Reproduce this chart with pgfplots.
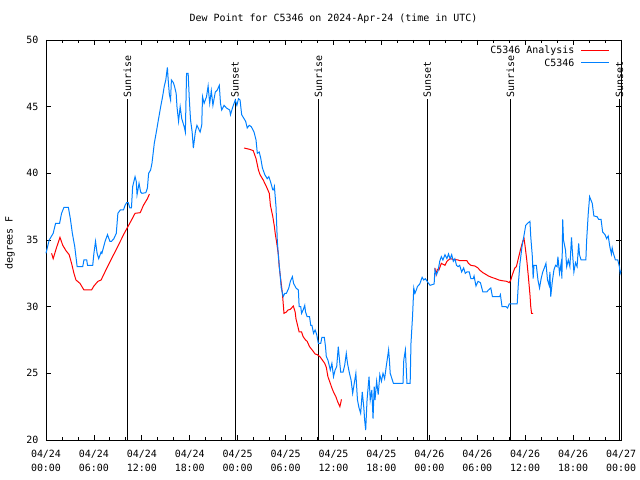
\documentclass[border=0pt]{standalone}
\usepackage{fontspec}
\setmainfont{DejaVu Sans Mono}
\usepackage{pgfplots}
\pgfplotsset{compat=1.18}
\definecolor{webblue}{RGB}{0,128,255}
\begin{document}
\begin{tikzpicture}
\fontsize{10}{12}\selectfont
\path[use as bounding box] (-46bp,-40bp) rectangle (594bp,440bp);
\begin{axis}[
  at={(0,0)}, anchor=south west,
  scale only axis, width=575bp, height=400bp,
  xmin=0, xmax=72, ymin=20, ymax=50,
  xtick={0,6,...,72},
  xticklabels={{04/24\\00:00},{04/24\\06:00},{04/24\\12:00},{04/24\\18:00},{04/25\\00:00},{04/25\\06:00},{04/25\\12:00},{04/25\\18:00},{04/26\\00:00},{04/26\\06:00},{04/26\\12:00},{04/26\\18:00},{04/27\\00:00}},
  xticklabel style={align=center, font=\fontsize{10}{14}\selectfont, yshift=-7bp},
  minor x tick num=2,
  ytick={20,25,...,50},
  yticklabel style={font=\fontsize{10}{12}\selectfont, xshift=-4bp},
  /pgf/number format/assume math mode=true,
  tick align=inside, tick pos=both,
  major tick length=5bp, minor tick length=3bp,
  every tick/.style={black, line width=0.8bp},
  axis line style={line width=0.8bp},
  unbounded coords=jump,
  clip=false,
]
% vertical sunrise / sunset lines
\addplot[black, line width=0.8bp, forget plot] coordinates {(10.18,20) (10.18,45.55)};
\addplot[black, line width=0.8bp, forget plot] coordinates {(23.67,20) (23.67,45.55)};
\addplot[black, line width=0.8bp, forget plot] coordinates {(34.1,20) (34.1,45.55)};
\addplot[black, line width=0.8bp, forget plot] coordinates {(47.75,20) (47.75,45.55)};
\addplot[black, line width=0.8bp, forget plot] coordinates {(58.14,20) (58.14,45.55)};
\addplot[black, line width=0.8bp, forget plot] coordinates {(71.8,20) (71.8,45.55)};
\node[rotate=90, anchor=west, inner sep=2bp] at (axis cs:10.18,45.55) {Sunrise};
\node[rotate=90, anchor=west, inner sep=2bp] at (axis cs:23.67,45.55) {Sunset};
\node[rotate=90, anchor=west, inner sep=2bp] at (axis cs:34.1,45.55) {Sunrise};
\node[rotate=90, anchor=west, inner sep=2bp] at (axis cs:47.75,45.55) {Sunset};
\node[rotate=90, anchor=west, inner sep=2bp] at (axis cs:58.14,45.55) {Sunrise};
\node[rotate=90, anchor=west, inner sep=2bp] at (axis cs:71.8,45.55) {Sunset};
% C5346 Analysis
\addplot[red, line width=1bp] coordinates {
(0.7,34.0) (0.9,33.6) (1.3,34.4) (1.75,35.2) (2.1,34.6) (2.5,34.2) (2.9,33.9) (3.2,33.25)
(3.5,32.5) (3.75,32.0) (4.25,31.75) (4.75,31.25) (5.7,31.25) (6.0,31.55) (6.5,31.9) (6.9,32.0)
(7.3,32.5) (7.7,33.0) (8.2,33.6) (8.77,34.25) (9.3,34.9) (9.8,35.5) (10.3,36.05) (10.8,36.6)
(11.15,37.0) (11.8,37.05) (12.2,37.6) (12.7,38.1) (12.95,38.45)
(13.5,nan)
(24.8,41.9) (25.5,41.8) (25.95,41.7) (26.3,41.1) (26.6,40.25) (26.8,39.9) (27.2,39.5) (27.6,39.0)
(27.96,38.5) (28.1,37.6) (28.4,36.75) (28.6,36.0) (28.7,35.5) (28.9,34.75) (29.1,33.9) (29.2,33.0)
(29.4,32.0) (29.6,31.0) (29.8,29.5) (30.1,29.6) (30.3,29.75) (30.6,29.8) (30.97,30.05) (31.2,29.6)
(31.3,29.1) (31.5,28.6) (31.7,28.1) (32.0,28.1) (32.2,27.75) (32.5,27.5) (32.7,27.4) (33.0,27.0)
(33.4,26.7) (33.7,26.45) (33.97,26.4) (34.3,26.25) (34.6,26.0) (34.9,25.75) (35.1,25.45) (35.3,24.75)
(35.6,24.25) (35.8,23.9) (36.0,23.6) (36.3,23.25) (36.5,22.9) (36.8,22.5) (37.0,23.05)
(40.0,nan)
(48.7,32.9) (48.85,32.4) (49.0,32.8) (49.2,32.75) (49.5,33.25) (49.96,33.1) (50.2,33.4) (50.6,33.6)
(51.0,33.55) (51.6,33.5) (51.8,33.45) (52.7,33.45) (52.9,33.25) (53.2,33.1) (53.7,33.05) (54.1,32.9)
(54.3,32.75) (54.7,32.55) (55.0,32.45) (55.4,32.3) (55.8,32.2) (56.3,32.1) (56.7,32.0) (57.1,31.95)
(57.7,31.9) (58.0,31.8) (58.2,32.0) (58.4,32.4) (58.7,32.9) (58.9,33.0) (59.2,33.75) (59.4,34.25)
(59.7,34.9) (59.86,35.1) (60.0,34.5) (60.2,33.5) (60.4,32.25) (60.6,30.9) (60.7,30.0) (60.8,29.5) (61.0,29.5)
};
% C5346 observations
\addplot[webblue, line width=1bp] coordinates {
(0.0,34.0) (0.4,35.0) (0.9,35.5) (1.2,36.25) (1.7,36.25) (1.95,37.0) (2.25,37.45) (2.8,37.45)
(3.05,36.6) (3.3,35.5) (3.6,34.5) (3.8,33.5) (3.9,33.0) (4.6,33.0) (4.75,33.5) (5.1,33.5)
(5.2,33.1) (5.85,33.1) (6.0,34.0) (6.2,34.9) (6.4,34.0) (6.6,33.6) (6.9,34.1) (7.0,34.0)
(7.4,34.9) (7.7,35.4) (8.0,34.9) (8.2,34.9) (8.5,35.1) (8.8,35.5) (9.0,37.0) (9.3,37.25)
(9.7,37.25) (9.9,37.6) (10.1,37.8) (10.3,37.8) (10.5,37.4) (10.7,37.4) (10.85,39.0) (11.15,39.75)
(11.3,39.4) (11.4,38.4) (11.65,39.25) (11.85,38.6) (12.0,38.5) (12.5,38.55) (12.7,38.9) (12.85,40.0)
(13.1,40.25) (13.27,40.75) (13.56,42.25) (13.86,43.25) (14.07,44.0) (14.36,45.0) (14.6,45.75) (14.8,46.5)
(15.0,47.0) (15.2,47.95) (15.3,47.0) (15.45,45.9) (15.6,45.5) (15.7,47.0) (15.95,46.8) (16.1,46.5)
(16.3,46.0) (16.4,45.0) (16.6,43.9) (16.8,45.0) (17.0,44.1) (17.3,43.5) (17.45,43.1) (17.6,47.5)
(17.8,47.5) (17.95,45.5) (18.1,44.0) (18.3,43.1) (18.45,41.9) (18.7,43.1) (18.9,43.6) (19.3,43.1)
(19.5,43.6) (19.6,45.75) (19.8,45.25) (20.1,45.75) (20.3,46.55) (20.5,45.25) (20.7,46.2) (20.9,45.1)
(21.2,46.1) (21.45,46.25) (21.7,46.6) (21.85,45.25) (22.0,44.75) (22.3,45.1) (22.6,44.9) (23.0,44.75)
(23.1,44.4) (23.4,45.0) (23.7,45.5) (23.9,45.1) (24.1,45.6) (24.3,45.5) (24.5,44.4) (24.8,44.1)
(25.0,43.9) (25.2,43.4) (25.45,43.6) (25.7,43.5) (26.05,43.1) (26.3,42.5) (26.46,41.5) (26.7,41.6)
(26.9,41.1) (27.1,40.4) (27.4,39.9) (27.7,39.6) (27.9,39.75) (28.1,39.4) (28.4,38.75) (28.5,38.75)
(28.6,39.0) (28.8,37.5) (28.96,35.0) (29.1,33.75) (29.3,32.5) (29.46,31.4) (29.7,30.75) (29.9,31.0)
(30.1,31.0) (30.4,31.4) (30.6,31.9) (30.85,32.25) (31.0,31.75) (31.3,31.4) (31.6,31.25) (31.7,30.0)
(31.9,30.0) (32.0,29.5) (32.2,29.75) (32.4,30.1) (32.5,29.6) (32.7,29.25) (33.0,29.25) (33.15,28.6)
(33.3,28.6) (33.5,28.0) (33.7,28.25) (33.9,27.9) (34.1,27.25) (34.4,27.25) (34.55,27.7) (34.85,27.7)
(35.0,27.0) (35.1,26.25) (35.3,26.0) (35.6,25.25) (35.8,25.75) (36.0,24.75) (36.2,25.25) (36.4,25.5)
(36.6,27.0) (36.75,26.0) (36.9,25.1) (37.2,25.1) (37.4,25.6) (37.6,26.5) (37.75,25.75) (38.0,25.0)
(38.2,24.5) (38.4,23.5) (38.6,24.25) (38.8,25.0) (39.0,23.0) (39.2,22.4) (39.4,22.0) (39.6,23.6)
(39.8,22.4) (39.9,21.5) (40.03,20.75) (40.2,23.0) (40.45,24.75) (40.6,23.0) (40.8,23.75) (40.95,21.6)
(41.1,24.0) (41.2,23.0) (41.4,24.4) (41.6,23.4) (41.8,24.9) (42.0,24.4) (42.2,25.0) (42.4,24.6)
(42.6,25.5) (42.9,26.75) (43.0,26.0) (43.1,25.0) (43.5,24.25) (44.7,24.25) (44.8,26.0) (45.0,26.75)
(45.2,24.25) (45.6,24.25) (45.7,27.25) (45.9,29.3) (46.05,31.4) (46.2,31.0) (46.4,31.3) (46.5,31.5)
(46.8,31.7) (47.1,32.2) (47.3,32.0) (47.5,32.1) (47.9,31.75) (48.1,31.6) (48.6,31.7) (48.7,32.75)
(48.9,32.4) (49.1,32.7) (49.3,33.4) (49.5,33.75) (49.7,33.5) (49.96,33.9) (50.2,33.6) (50.4,33.95)
(50.6,33.6) (50.8,33.9) (51.0,33.4) (51.2,33.6) (51.4,33.1) (51.6,33.0) (51.8,33.1) (52.05,32.6)
(52.3,32.9) (52.5,32.5) (52.7,32.6) (53.0,32.6) (53.2,32.1) (53.5,32.1) (53.6,32.3) (53.84,31.55)
(54.1,31.9) (54.4,31.8) (54.7,31.1) (55.2,31.1) (55.4,31.25) (55.7,31.4) (55.9,30.75) (56.8,30.75)
(56.9,30.9) (57.1,30.0) (57.6,30.0) (57.8,29.9) (58.0,30.2) (59.0,30.2) (59.15,31.75) (59.35,33.25)
(59.6,34.5) (59.9,35.5) (60.07,36.1) (60.3,36.25) (60.6,36.4) (60.7,35.25) (60.9,33.75) (61.0,32.1)
(61.1,33.1) (61.4,33.1) (61.6,32.0) (61.8,31.4) (62.0,32.1) (62.2,32.6) (62.4,32.9) (62.6,33.25)
(62.8,32.0) (63.0,31.6) (63.1,32.6) (63.2,30.75) (63.4,31.9) (63.6,32.75) (63.8,33.1) (64.0,33.0)
(64.1,33.75) (64.3,32.5) (64.5,33.25) (64.6,32.1) (64.7,36.55) (64.8,35.0) (65.05,34.25) (65.2,33.0)
(65.4,33.5) (65.6,33.0) (65.8,35.2) (65.9,34.25) (66.1,32.6) (66.3,33.3) (66.5,33.0) (66.7,34.75)
(66.8,33.9) (67.0,33.5) (67.6,33.5) (67.7,35.0) (67.9,37.0) (68.07,38.25) (68.3,37.9) (68.4,37.75)
(68.6,36.8) (69.0,36.75) (69.2,36.55) (69.5,36.55) (69.7,35.6) (70.0,35.4) (70.2,35.1) (70.4,35.3)
(70.6,34.5) (70.8,33.95) (70.9,34.4) (71.0,34.1) (71.3,33.5) (71.6,33.5) (71.8,33.0) (71.9,32.5) (72.0,32.7)
};
% legend (key lines and labels)
\addplot[red, line width=1bp, forget plot] coordinates {(67.0,49.21) (70.5,49.21)};
\addplot[webblue, line width=1bp, forget plot] coordinates {(67.0,48.28) (70.5,48.28)};
\node[anchor=east, inner sep=0pt] at (axis cs:66.18,49.21) {C5346 Analysis};
\node[anchor=east, inner sep=0pt] at (axis cs:66.18,48.28) {C5346};
\end{axis}
\node at (287.5bp,421bp) {Dew Point for C5346 on 2024-Apr-24 (time in UTC)};
\node[rotate=90] at (-36bp,197bp) {degrees F};
\end{tikzpicture}
\end{document}
